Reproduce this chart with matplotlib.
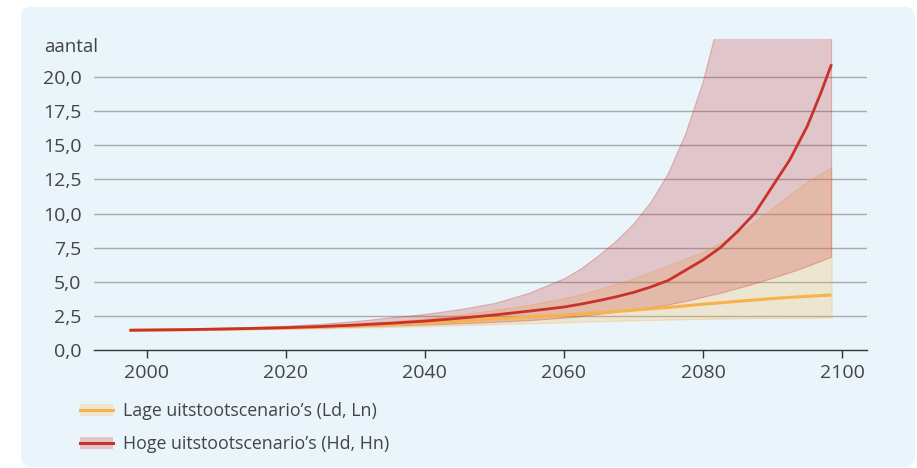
import matplotlib
matplotlib.use("Agg")
import matplotlib.pyplot as plt
from matplotlib.patches import FancyBboxPatch, Patch
from matplotlib.lines import Line2D
from matplotlib.ticker import FuncFormatter

plt.rcParams['font.family'] = ['Open Sans', 'DejaVu Sans']

# jaren en waarden
years = [1997.5, 2005, 2010, 2015, 2020, 2025, 2030, 2035, 2040, 2045, 2050, 2055,
         2060, 2062.5, 2065, 2067.5, 2070, 2072.5, 2075, 2077.5, 2080, 2082.5, 2085,
         2087.5, 2090, 2092.5, 2095, 2097, 2098.5]

lage_mid = [1.45, 1.48, 1.52, 1.56, 1.61, 1.68, 1.77, 1.88, 1.99, 2.12, 2.27, 2.42,
            2.56, 2.64, 2.73, 2.82, 2.92, 3.02, 3.12, 3.24, 3.36, 3.46, 3.57,
            3.67, 3.77, 3.86, 3.93, 3.99, 4.03]
lage_low = [1.45, 1.47, 1.49, 1.52, 1.55, 1.59, 1.64, 1.69, 1.75, 1.82, 1.89, 1.96,
            2.03, 2.07, 2.10, 2.14, 2.17, 2.20, 2.23, 2.26, 2.28, 2.30, 2.32,
            2.34, 2.35, 2.36, 2.37, 2.38, 2.38]
lage_high = [1.45, 1.50, 1.55, 1.61, 1.69, 1.80, 1.94, 2.10, 2.30, 2.60, 2.92, 3.30,
             3.80, 4.10, 4.45, 4.85, 5.25, 5.70, 6.20, 6.70, 7.20, 7.85, 8.60,
             9.45, 10.4, 11.4, 12.35, 12.95, 13.4]

hoge_mid = [1.45, 1.49, 1.53, 1.58, 1.64, 1.72, 1.83, 1.96, 2.12, 2.33, 2.57, 2.85,
            3.15, 3.37, 3.62, 3.90, 4.22, 4.62, 5.10, 5.85, 6.60, 7.50, 8.70,
            10.05, 12.0, 13.95, 16.4, 18.9, 20.95]
hoge_low = [1.45, 1.47, 1.50, 1.53, 1.57, 1.62, 1.68, 1.75, 1.83, 1.92, 2.02, 2.15,
            2.33, 2.45, 2.60, 2.76, 2.93, 3.10, 3.30, 3.55, 3.85, 4.15, 4.50,
            4.85, 5.25, 5.65, 6.10, 6.50, 6.80]
hoge_high = [1.45, 1.52, 1.58, 1.65, 1.74, 1.88, 2.08, 2.35, 2.60, 2.95, 3.40, 4.15,
             5.20, 5.95, 6.90, 7.95, 9.20, 10.8, 12.9, 15.8, 19.6, 24.5, 30.5,
             37.0, 44.0, 52.0, 61.0, 69.0, 75.0]

labels = ["Lage uitstootscenario\u2019s (Ld, Ln)", "Hoge uitstootscenario\u2019s (Hd, Hn)"]
yticks = [0, 2.5, 5, 7.5, 10, 12.5, 15, 17.5, 20]
xticks = [2000, 2020, 2040, 2060, 2080, 2100]

bg = '#e9f4fb'
text_col = '#444444'
orange = '#f9b24a'
red = '#c8322a'
lage_fill = (0.976, 0.72, 0.29, 0.24)
hoge_fill = (0.78, 0.20, 0.18, 0.24)

fig = plt.figure(figsize=(9.17, 4.68), dpi=100, facecolor='white')

# achtergrondpaneel
bgax = fig.add_axes([0, 0, 1, 1], zorder=-1)
bgax.set_xlim(0, 917)
bgax.set_ylim(468, 0)
bgax.axis('off')
bgax.add_patch(FancyBboxPatch((21, 7), 894, 460, boxstyle='round,pad=0,rounding_size=10',
                              fc=bg, ec='none'))

ax = fig.add_axes([94 / 917, 118 / 468, (867 - 94) / 917, (350 - 39) / 468])
ax.set_facecolor('none')

ax.fill_between(years, lage_low, lage_high, fc=lage_fill, ec=(0.976, 0.72, 0.29, 0.35), lw=0.8, zorder=2)
ax.fill_between(years, hoge_low, hoge_high, fc=hoge_fill, ec=(0.78, 0.20, 0.18, 0.3), lw=0.8, zorder=3)
ax.plot(years, lage_mid, color=orange, lw=2.2, zorder=4, solid_capstyle='butt')
ax.plot(years, hoge_mid, color=red, lw=2.0, zorder=5, solid_capstyle='butt')

ax.set_xlim(1992.4, 2103.6)
ax.set_ylim(0, 22.8)
ax.set_yticks(yticks)
ax.set_xticks(xticks)
ax.yaxis.set_major_formatter(FuncFormatter(lambda v, p: f"{v:.1f}".replace('.', ',')))
for s in ['top', 'right', 'left']:
    ax.spines[s].set_visible(False)
ax.spines['bottom'].set_color('#333333')
ax.spines['bottom'].set_linewidth(1.0)
ax.spines['bottom'].set_zorder(6)
ax.tick_params(axis='y', length=0, pad=9, labelsize=14, labelcolor=text_col)
ax.tick_params(axis='x', length=6, width=1.0, color='#333333', pad=4, labelsize=14, labelcolor=text_col)
ax.set_axisbelow(True)
for y in yticks[1:]:
    ax.axhline(y, color='#aaaaaa', lw=1.0, zorder=1)

fig.text(44 / 917, 1 - 52 / 468, 'aantal', fontsize=13.5, color=text_col, va='baseline', ha='left')

handles = [(Patch(fc=lage_fill, ec='none'), Line2D([], [], color=orange, lw=2.2)),
           (Patch(fc=hoge_fill, ec='none'), Line2D([], [], color=red, lw=2.2))]
leg = fig.legend(handles, labels, loc='upper left', bbox_to_anchor=(73 / 917, 1 - 395 / 468),
                 frameon=False, fontsize=12.8, labelcolor=text_col, handlelength=1.84,
                 handleheight=0.68, handletextpad=0.6, labelspacing=0.85, borderaxespad=0)

fig.savefig('out.png', dpi=100, facecolor='white')
